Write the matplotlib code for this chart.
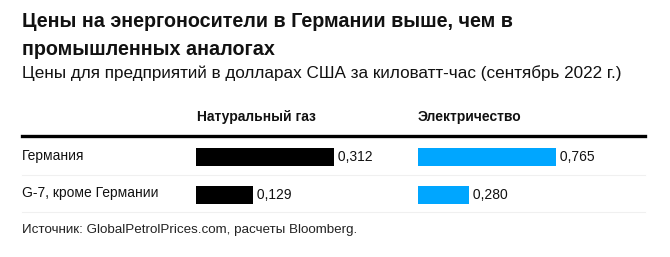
import matplotlib.pyplot as plt

plt.rcParams['font.family'] = ['Liberation Sans', 'DejaVu Sans']

# data
countries = ['Германия', 'G-7, кроме Германии']
gas = [0.312, 0.129]
power = [0.765, 0.280]
gas_labels = ['0,312', '0,129']
power_labels = ['0,765', '0,280']

W, H = 670, 257
fig = plt.figure(figsize=(W / 100, H / 100), dpi=100)


def px(x, y):
    return x / W, 1 - y / H


def txt(x, y, s, **kw):
    kw.setdefault('color', '#111111')
    fx, fy = px(x, y)
    fig.text(fx, fy, s, va='baseline', ha='left', **kw)


txt(22, 27, 'Цены на энергоносители в Германии выше, чем в', fontsize=14.2, fontweight='bold')
txt(22, 55, 'промышленных аналогах', fontsize=14.2, fontweight='bold')
txt(22, 78, 'Цены для предприятий в долларах США за киловатт-час (сентябрь 2022 г.)', fontsize=12.35)
txt(197, 121, 'Натуральный газ', fontsize=10, fontweight='bold')
txt(418, 121, 'Электричество', fontsize=10, fontweight='bold')
txt(22, 233, 'Источник: GlobalPetrolPrices.com, расчеты Bloomberg.', fontsize=9.6, color='#222222')

# header rule and row separators
for y, lw, c in [(135.5, 2.4, '#000000'), (175, 0.8, '#f0f0f0'), (212, 0.8, '#f0f0f0')]:
    x0, fy = px(22, y)
    x1, _ = px(645, y)
    fig.add_artist(plt.Line2D([x0, x1], [fy, fy], color=c, lw=lw))

for i, name in enumerate(countries):
    txt(22, 160 + i * 37, name, fontsize=10)

# axes covering both rows: 138..214 px
ax_w = 200
top, bottom = 138, 214
panels = [(196, gas, gas_labels, '#000000', 0.312), (418, power, power_labels, '#00a6ff', 0.765)]
for left, vals, labs, col, vmax in panels:
    l, b = px(left, bottom)
    ax = fig.add_axes([l, b, ax_w / W, (bottom - top) / H])
    ax.barh(range(len(vals)), vals, height=0.49, color=col)
    ax.set_xlim(0, vmax * ax_w / 138)
    ax.set_ylim(1.5, -0.5)
    for i, (v, s) in enumerate(zip(vals, labs)):
        ax.text(v, i, ' ' + s, va='center', ha='left', fontsize=10, color='#111111')
    ax.axis('off')

fig.savefig('out.png', dpi=100)
